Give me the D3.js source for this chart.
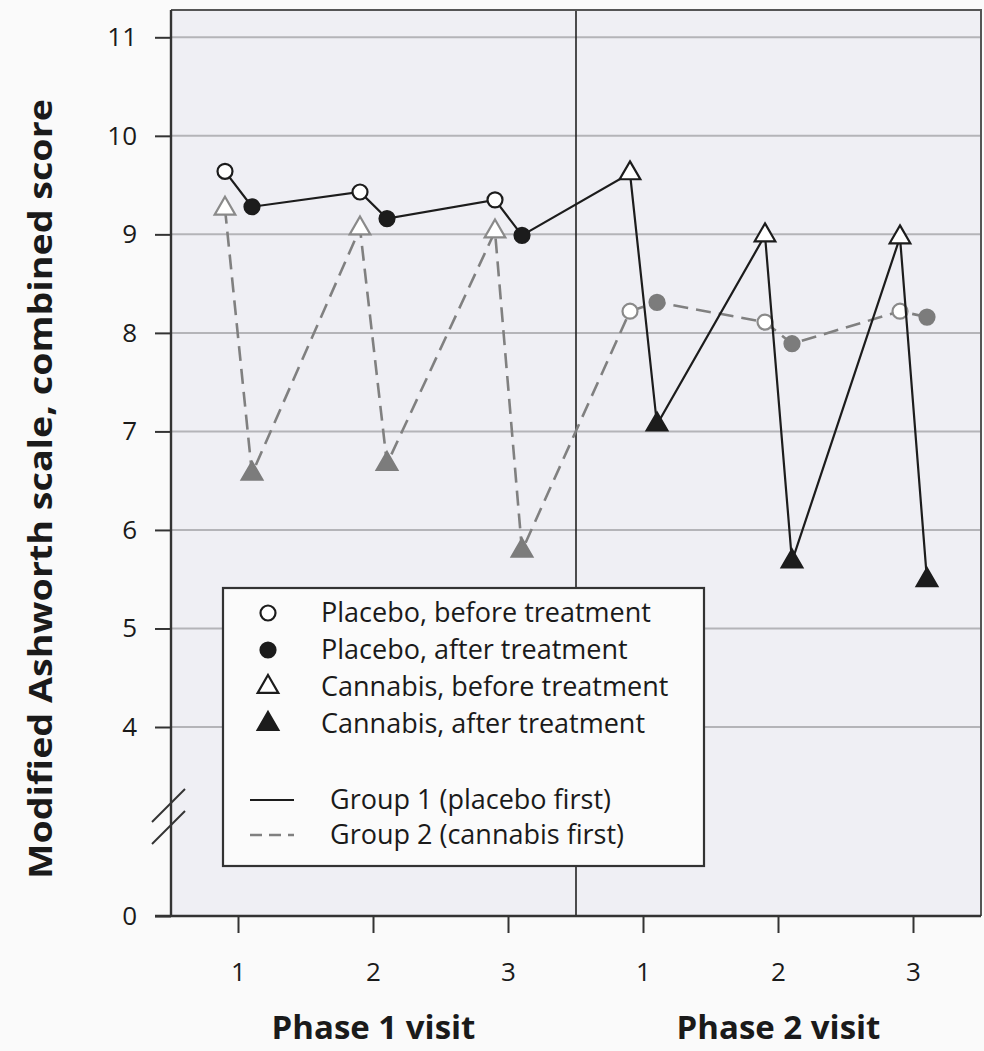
<!DOCTYPE html>
<html><head><meta charset="utf-8">
<script src="https://cdn.jsdelivr.net/npm/d3@7"></script>
<style>
html,body{margin:0;padding:0;background:#fafafa;}
svg{display:block;font-family:"Open Sans",sans-serif;}
</style></head><body>
<svg id="chart" width="984" height="1051"></svg>
<script>
// Visits, phases and axis ticks
const visitLabels = ["1", "2", "3", "1", "2", "3"];
const phaseLabels = ["Phase 1 visit", "Phase 2 visit"];
const yTicks = [0, 4, 5, 6, 7, 8, 9, 10, 11];
const gridValues = [4, 5, 6, 7, 8, 9, 10, 11];

// Group 1 (placebo first): scores before / after treatment at each visit
const group1Drug = ["placebo", "placebo", "placebo", "cannabis", "cannabis", "cannabis"];
const group1Before = [9.64, 9.43, 9.35, 9.62, 8.99, 8.97];
const group1After = [9.28, 9.16, 8.99, 7.07, 5.68, 5.49];

// Group 2 (cannabis first)
const group2Drug = ["cannabis", "cannabis", "cannabis", "placebo", "placebo", "placebo"];
const group2Before = [9.26, 9.06, 9.03, 8.22, 8.11, 8.22];
const group2After = [6.57, 6.67, 5.79, 8.31, 7.89, 8.16];

const legendMarkers = [
  {label: "Placebo, before treatment", drug: "placebo", slot: "before"},
  {label: "Placebo, after treatment", drug: "placebo", slot: "after"},
  {label: "Cannabis, before treatment", drug: "cannabis", slot: "before"},
  {label: "Cannabis, after treatment", drug: "cannabis", slot: "after"}
];
const legendLines = [
  {label: "Group 1 (placebo first)", group: "g1"},
  {label: "Group 2 (cannabis first)", group: "g2"}
];

const styles = {
  g1: {line: "#1c1c1c", width: 2.2, dash: null, mark: "#1c1c1c", fill: "#1c1c1c"},
  g2: {line: "#808080", width: 2.6, dash: "15,8", mark: "#8a8a8a", fill: "#7c7c7c"}
};

const svg = d3.select("#chart");
const plot = {left: 171, right: 981, top: 10, bottom: 916};

const x = d3.scaleBand().domain(d3.range(visitLabels.length)).range([plot.left, plot.right]);
const y = d3.scaleLinear().domain([0, 4, 11]).range([plot.bottom, 727, 37.3]);
const offset = 13.5;
const px = (i, slot) => x(i) + x.bandwidth() / 2 + (slot === "before" ? -offset : offset);

// plot background
svg.append("rect").attr("x", plot.left).attr("y", plot.top)
  .attr("width", plot.right - plot.left).attr("height", plot.bottom - plot.top)
  .attr("fill", "#efeff4");

// horizontal gridlines
svg.append("g").selectAll("line").data(gridValues).join("line")
  .attr("x1", plot.left).attr("x2", plot.right)
  .attr("y1", d => y(d)).attr("y2", d => y(d))
  .attr("stroke", "#b4b4b8").attr("stroke-width", 2);

// phase divider
const divX = x(3);
svg.append("line").attr("x1", divX).attr("x2", divX)
  .attr("y1", plot.top).attr("y2", plot.bottom)
  .attr("stroke", "#222").attr("stroke-width", 1.6);

// frame: top and right
svg.append("path")
  .attr("d", `M${plot.left},${plot.top}H${plot.right}V${plot.bottom}`)
  .attr("fill", "none").attr("stroke", "#555").attr("stroke-width", 2);

// y axis
const yAxis = svg.append("g").attr("transform", `translate(${plot.left},0)`)
  .call(d3.axisLeft(y).tickValues(yTicks).tickSize(16).tickPadding(18).tickFormat(d3.format("d")));
yAxis.select(".domain").attr("d", `M0,${plot.top}V${plot.bottom}`).attr("stroke", "#333").attr("stroke-width", 2.4);
yAxis.selectAll(".tick line").attr("stroke", "#333").attr("stroke-width", 2);
yAxis.selectAll(".tick text").attr("font-size", 26).attr("fill", "#1a1a1a")
  .attr("font-family", "'Open Sans', sans-serif");

// axis break marks
const brk = svg.append("g").attr("stroke", "#333").attr("stroke-width", 2);
brk.append("line").attr("x1", plot.left - 19).attr("y1", 822).attr("x2", plot.left + 14).attr("y2", 789);
brk.append("line").attr("x1", plot.left - 19).attr("y1", 844).attr("x2", plot.left + 14).attr("y2", 811);

// x axis
const xAxis = svg.append("g").attr("transform", `translate(0,${plot.bottom})`)
  .call(d3.axisBottom(x).tickSize(17).tickPadding(30).tickFormat(i => visitLabels[i]));
xAxis.select(".domain").attr("d", `M155,0H${plot.right}`).attr("stroke", "#333").attr("stroke-width", 2.4);
xAxis.selectAll(".tick line").attr("stroke", "#333").attr("stroke-width", 2);
xAxis.selectAll(".tick text").attr("font-size", 26).attr("fill", "#1a1a1a")
  .attr("font-family", "'Open Sans', sans-serif");

// phase titles
svg.append("g").selectAll("text").data(phaseLabels).join("text")
  .attr("x", (d, k) => x(k * 3 + 1) + x.bandwidth() / 2)
  .attr("y", 1039)
  .attr("text-anchor", "middle").attr("font-size", 33).attr("font-weight", "bold")
  .attr("fill", "#1a1a1a").text(d => d);

// y axis title
svg.append("text")
  .attr("transform", "translate(52,489) rotate(-90)")
  .attr("text-anchor", "middle").attr("font-size", 32).attr("font-weight", "bold")
  .attr("textLength", 780).attr("lengthAdjust", "spacingAndGlyphs")
  .attr("fill", "#1a1a1a").text("Modified Ashworth scale, combined score");

// series points
function seriesPoints(before, after, drug) {
  const pts = [];
  before.forEach((v, i) => {
    pts.push({i, slot: "before", value: v, drug: drug[i]});
    pts.push({i, slot: "after", value: after[i], drug: drug[i]});
  });
  return pts;
}
const series = [
  {key: "g1", points: seriesPoints(group1Before, group1After, group1Drug)},
  {key: "g2", points: seriesPoints(group2Before, group2After, group2Drug)}
];

const triangle = d3.symbol(d3.symbolTriangle, 185);

function drawMarker(sel, d, st) {
  const open = d.slot === "before";
  if (d.drug === "placebo") {
    sel.append("circle").attr("r", 7.5)
      .attr("fill", open ? "#ffffff" : st.fill)
      .attr("stroke", open ? st.mark : st.fill).attr("stroke-width", 2.2);
  } else {
    sel.append("path").attr("d", triangle())
      .attr("fill", open ? "#ffffff" : st.fill)
      .attr("stroke", open ? st.mark : st.fill).attr("stroke-width", 2.2)
      .attr("stroke-linejoin", "miter");
  }
}

const line = d3.line().x(d => px(d.i, d.slot)).y(d => y(d.value));

// draw group 2 first, then group 1 on top
[series[1], series[0]].forEach(s => {
  const st = styles[s.key];
  svg.append("path").datum(s.points).attr("d", line)
    .attr("fill", "none").attr("stroke", st.line).attr("stroke-width", st.width)
    .attr("stroke-dasharray", st.dash);
  svg.append("g").selectAll("g").data(s.points).join("g")
    .attr("transform", d => `translate(${px(d.i, d.slot)},${y(d.value)})`)
    .each(function(d) { drawMarker(d3.select(this), d, st); });
});

// legend
const lg = svg.append("g");
lg.append("rect").attr("x", 223).attr("y", 588).attr("width", 481).attr("height", 278)
  .attr("fill", "#fbfbfb").attr("stroke", "#333").attr("stroke-width", 2.2);
const legendRowY = [613, 650, 687, 724];
legendMarkers.forEach((m, k) => {
  const g = lg.append("g").attr("transform", `translate(268,${legendRowY[k]})`);
  drawMarker(g, m, styles.g1);
  lg.append("text").attr("x", 321).attr("y", legendRowY[k]).attr("dy", "0.35em")
    .attr("font-size", 27).attr("fill", "#1a1a1a").text(m.label);
});
const legendLineY = [800, 835];
legendLines.forEach((l, k) => {
  const st = styles[l.group];
  lg.append("line").attr("x1", 250).attr("x2", 294)
    .attr("y1", legendLineY[k]).attr("y2", legendLineY[k])
    .attr("stroke", st.line).attr("stroke-width", st.width)
    .attr("stroke-dasharray", l.group === "g2" ? "12,7" : null);
  lg.append("text").attr("x", 330).attr("y", legendLineY[k]).attr("dy", "0.35em")
    .attr("font-size", 27).attr("fill", "#1a1a1a").text(l.label);
});
</script>
</body></html>
